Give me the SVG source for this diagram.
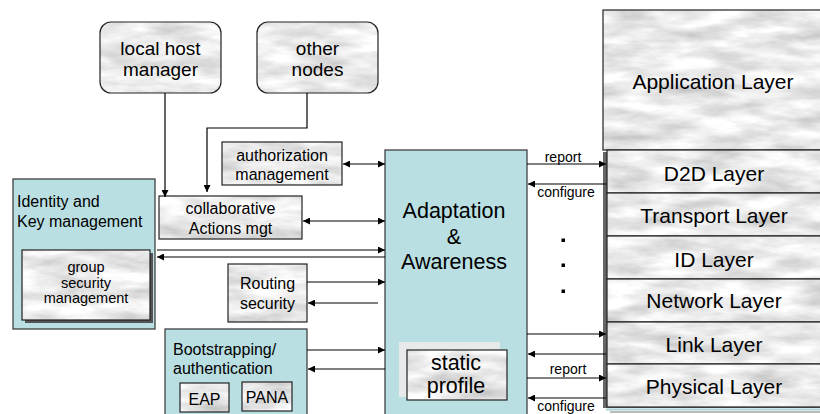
<svg xmlns="http://www.w3.org/2000/svg" width="820" height="414" viewBox="0 0 820 414">
<defs>
<filter id="marble" x="0" y="0" width="100%" height="100%" color-interpolation-filters="sRGB">
<feTurbulence type="fractalNoise" baseFrequency="0.02 0.07" numOctaves="4" seed="7" result="n"/>
<feColorMatrix in="n" type="matrix" values="0.38 0 0 0 0.73  0.38 0 0 0 0.73  0.38 0 0 0 0.73  0 0 0 0 1" result="g"/>
<feComposite in="g" in2="SourceAlpha" operator="in"/>
</filter>
<marker id="ah" viewBox="0 0 10 10" refX="10" refY="5" markerWidth="8" markerHeight="7" markerUnits="userSpaceOnUse" orient="auto-start-reverse">
<path d="M0,0 L10,5 L0,10 z" fill="#000"/>
</marker>
<style>
text{font-family:"Liberation Sans",Arial,sans-serif;fill:#000}
.m{fill:#ececec;filter:url(#marble)}
.o{fill:none;stroke:#222;stroke-width:1.2}
.cy{fill:#b9dfe2;stroke:#333;stroke-width:1.2}
.c{text-anchor:middle}
.f19{font-size:19px}
.f16{font-size:16px}
.f15{font-size:14.5px}
.f14{font-size:14px}
.f21{font-size:21px}
.ln{fill:none;stroke:#000;stroke-width:1.2}
.a{marker-end:url(#ah)}
.ab{marker-start:url(#ah);marker-end:url(#ah)}
</style>
</defs>
<rect width="820" height="414" fill="#fff"/>

<g id="local-host-manager">
<rect class="m" x="100" y="22" width="121" height="71" rx="11"/>
<rect class="o" x="100" y="22" width="121" height="71" rx="11"/>
<text class="c f19" x="160.5" y="55">local host</text>
<text class="c f19" x="160.5" y="76">manager</text>
</g>

<g id="other-nodes">
<rect class="m" x="257" y="22" width="121" height="71" rx="11"/>
<rect class="o" x="257" y="22" width="121" height="71" rx="11"/>
<text class="c f19" x="317.5" y="55">other</text>
<text class="c f19" x="317.5" y="76">nodes</text>
</g>

<g id="authorization-management">
<rect class="m" x="222" y="142" width="120" height="43"/>
<rect class="o" x="222" y="142" width="120" height="43"/>
<text class="c f16" x="282" y="161">authorization</text>
<text class="c f16" x="282" y="180">management</text>
</g>

<g id="identity-key-management">
<rect class="cy" x="13" y="179" width="142" height="150"/>
<text class="f16" x="17" y="207">Identity and</text>
<text class="f16" x="17" y="227">Key management</text>
</g>

<g id="group-security-management">
<rect x="25" y="253" width="128" height="70" fill="#555"/>
<rect class="m" x="22" y="250" width="128" height="70"/>
<rect class="o" x="22" y="250" width="128" height="70"/>
<text class="c f15" x="86" y="272">group</text>
<text class="c f15" x="86" y="287.5">security</text>
<text class="c f15" x="86" y="303">management</text>
</g>

<g id="collaborative-actions">
<rect class="m" x="159" y="196" width="143" height="43"/>
<rect class="o" x="159" y="196" width="143" height="43"/>
<text class="c f16" x="230.5" y="214">collaborative</text>
<text class="c f16" x="230.5" y="234">Actions mgt</text>
</g>

<g id="routing-security">
<rect class="m" x="228" y="264" width="79" height="58"/>
<rect class="o" x="228" y="264" width="79" height="58"/>
<text class="c f16" x="267.5" y="289">Routing</text>
<text class="c f16" x="267.5" y="309">security</text>
</g>

<g id="bootstrapping-authentication">
<rect class="cy" x="165" y="329" width="142" height="95"/>
<text class="f16" x="173" y="355">Bootstrapping/</text>
<text class="f16" x="173" y="374">authentication</text>
</g>

<g id="eap">
<rect class="m" x="180" y="383" width="49" height="29"/>
<rect class="o" x="180" y="383" width="49" height="29"/>
<text class="c f16" x="204.5" y="405">EAP</text>
</g>

<g id="pana">
<rect class="m" x="242" y="382" width="50" height="29"/>
<rect class="o" x="242" y="382" width="50" height="29"/>
<text class="c f16" x="267" y="403">PANA</text>
</g>

<g id="adaptation-awareness">
<rect class="cy" x="385" y="150" width="142" height="280"/>
<text class="c f21" x="454" y="218" style="font-size:21.5px">Adaptation</text>
<text class="c f21" x="454" y="244" style="font-size:21.5px">&amp;</text>
<text class="c f21" x="454" y="269" style="font-size:21.5px">Awareness</text>
<rect x="561.5" y="238.5" width="3.5" height="3.5" fill="#000"/>
<rect x="561.5" y="263.5" width="3.5" height="3.5" fill="#000"/>
<rect x="561.5" y="289.5" width="3.5" height="3.5" fill="#000"/>
</g>

<g id="static-profile">
<rect x="399" y="342" width="101" height="55" fill="#e6eaea"/>
<rect class="m" x="407" y="350" width="100" height="50"/>
<rect class="o" x="407" y="350" width="100" height="50"/>
<text class="c f21" x="456" y="370" style="font-size:21.5px">static</text>
<text class="c f21" x="456" y="393" style="font-size:21.5px">profile</text>
</g>

<g id="application-layer">
<rect class="m" x="603" y="10" width="220" height="140"/>
<rect class="o" x="603" y="10" width="220" height="140"/>
<text class="c f21" x="713" y="89">Application Layer</text>
</g>

<g id="layer-stack-shadow">
<rect x="603" y="152" width="220" height="256" fill="#666"/>
<line x1="606" y1="409.5" x2="820" y2="409.5" stroke="#a9d3d6" stroke-width="2"/>
<line x1="610" y1="412" x2="820" y2="412" stroke="#bbb" stroke-width="2"/>
</g>

<g id="d2d-layer">
<rect class="m" x="607" y="150" width="216" height="43"/>
<rect class="o" x="607" y="150" width="216" height="43"/>
<text class="c f21" x="714" y="181">D2D Layer</text>
</g>
<g id="transport-layer">
<rect class="m" x="607" y="193" width="216" height="43"/>
<rect class="o" x="607" y="193" width="216" height="43"/>
<text class="c f21" x="714" y="223">Transport Layer</text>
</g>
<g id="id-layer">
<rect class="m" x="607" y="236" width="216" height="43"/>
<rect class="o" x="607" y="236" width="216" height="43"/>
<text class="c f21" x="714" y="266.5">ID Layer</text>
</g>
<g id="network-layer">
<rect class="m" x="607" y="279" width="216" height="43"/>
<rect class="o" x="607" y="279" width="216" height="43"/>
<text class="c f21" x="714" y="308">Network Layer</text>
</g>
<g id="link-layer">
<rect class="m" x="607" y="322" width="216" height="42"/>
<rect class="o" x="607" y="322" width="216" height="42"/>
<text class="c f21" x="714" y="351.5">Link Layer</text>
</g>
<g id="physical-layer">
<rect class="m" x="607" y="364" width="216" height="43"/>
<rect class="o" x="607" y="364" width="216" height="43"/>
<text class="c f21" x="714" y="394">Physical Layer</text>
</g>

<g id="connectors">
<path class="ln a" d="M165,93 V197"/>
<path class="ln a" d="M307,93 V128 H207 V192"/>
<path class="ln ab" d="M343,164 H385"/>
<path class="ln ab" d="M303,221 H385"/>
<path class="ln a" d="M157,250 H385"/>
<path class="ln a" d="M385,257 H157"/>
<path class="ln a" d="M307,282 H385"/>
<path class="ln a" d="M378,303 H308"/>
<path class="ln a" d="M307,350 H385"/>
<path class="ln a" d="M385,369 H308"/>
<path class="ln a" d="M527,164 H606"/>
<path class="ln a" d="M606,184 H528"/>
<path class="ln a" d="M527,334 H606"/>
<path class="ln a" d="M606,354 H528"/>
<path class="ln a" d="M527,378 H606"/>
<path class="ln a" d="M606,398 H528"/>
<text class="c f14" x="563" y="161.5">report</text>
<text class="c f14" x="566" y="196.5">configure</text>
<text class="c f14" x="568" y="374">report</text>
<text class="c f14" x="566" y="410.5">configure</text>
</g>
</svg>
